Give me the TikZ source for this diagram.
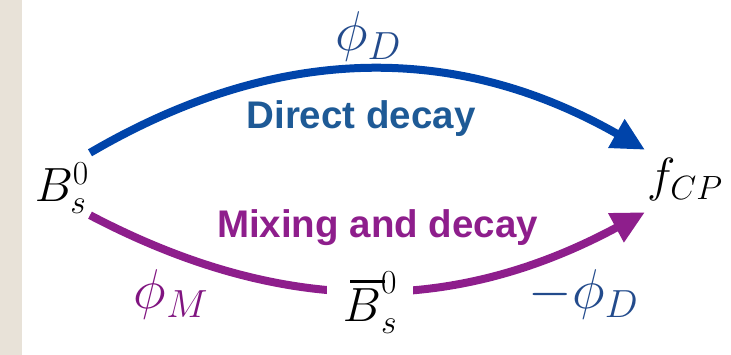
\RequirePackage{fix-cm}
\documentclass[tikz,border=0pt]{standalone}
\usepackage{fontspec}
\usepackage{tikz}
\usetikzlibrary{arrows.meta, positioning}

\newfontfamily\pathfont{Liberation Sans}
\definecolor{arcblue}{RGB}{0,68,170}
\definecolor{arcpurple}{RGB}{142,30,140}
\definecolor{textblue}{RGB}{30,90,150}
\definecolor{phaseblue}{RGB}{35,75,140}
\definecolor{phasepurple}{RGB}{128,20,128}
\definecolor{marble}{RGB}{232,226,216}

% bar that scales with the font (cmex rule stays thin at large sizes)
\newcommand{\barB}{{\rlap{\hspace{0.15em}\rule[0.82em]{0.72em}{0.05em}}B}}

\begin{document}
\begin{tikzpicture}[
	x=1pt, y=1pt,
	>={Triangle[length=33pt, width=31pt]},
	state/.style={inner xsep=1pt, inner ysep=0pt, font=\fontsize{48}{50}\selectfont},
	phase/.style={anchor=base, font=\fontsize{56}{58}\selectfont},
	path label/.style={anchor=base, font=\pathfont\bfseries\fontsize{38.5}{40}\selectfont},
	direct/.style={->, draw=arcblue, line width=8pt},
	mixing/.style={->, draw=arcpurple, line width=8pt}
	]
	
	\useasboundingbox (0,0) rectangle (731,355);
	
	% marble strip on the left
	\fill[marble] (0,0) rectangle (22,355);
	
	% --- STATES ---
	\node[state, anchor=east, text height=49pt, text depth=13pt] (Bs) at (90,171) {$B_s^0$};
	\node[state, anchor=west, inner xsep=2pt, text height=42pt, text depth=20pt] (fcp) at (645,174) {$f_{CP}$};
	
	% --- PATHS ---
	\draw[direct] (Bs.north east) to[bend left=30] (fcp.north west);
	\draw[mixing] (Bs.south east) to[bend right=28] (fcp.south west);
	
	% intermediate state sits on the mixing path
	\node[state, anchor=base, fill=white, minimum width=86pt, inner ysep=3pt] (Bbar) at (370,33) {$\barB_s^0$};
	
	% --- LABELS ---
	\node[path label, textblue] (direct label) at (361,226) {Direct decay};
	\node[path label, arcpurple] (mixing label) at (377.5,117) {Mixing and decay};
	
	\node[phase, phaseblue] (phiD) at (368,304) {$\phi_D$};
	\node[phase, phasepurple] (phiM) at (171,46) {$\phi_M$};
	\node[phase, phaseblue] (minus phiD) at (583.5,46) {$-\phi_D$};
	
\end{tikzpicture}
\end{document}
